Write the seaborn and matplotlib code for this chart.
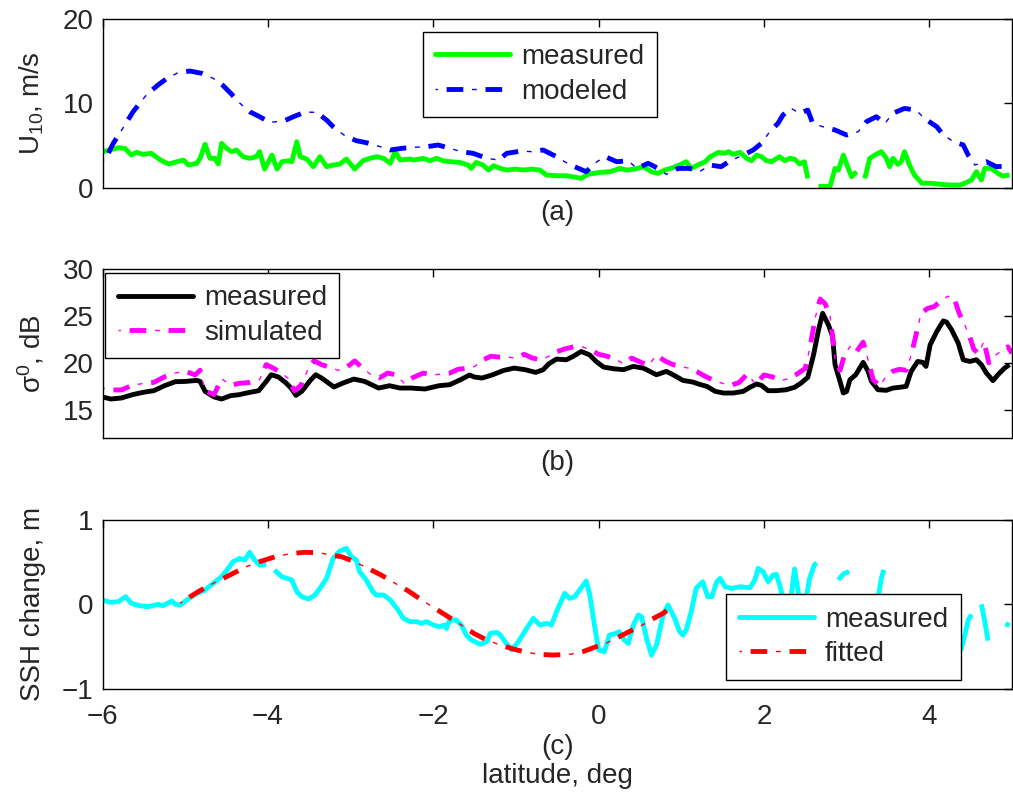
import numpy as np
import pandas as pd
import matplotlib
matplotlib.use("Agg")
import matplotlib.pyplot as plt
from matplotlib.lines import Line2D
from matplotlib.legend_handler import HandlerTuple
import seaborn as sns

nan = np.nan

# ---------------- (a) 10 m wind speed, m/s ----------------
lat_wind_meas = [
    -6.0, -5.91, -5.81, -5.73, -5.65, -5.59, -5.51, -5.41, -5.30, -5.20,
    -5.10, -5.02, -4.96, -4.86, -4.82, -4.76, -4.70, -4.64, -4.60, -4.56,
    -4.50, -4.44, -4.38, -4.30, -4.22, -4.14, -4.10, -4.04, -3.95, -3.89,
    -3.83, -3.75, -3.71, -3.65, -3.61, -3.53, -3.45, -3.37, -3.29, -3.21,
    -3.13, -3.05, -2.95, -2.85, -2.77, -2.68, -2.60, -2.52, -2.46, -2.40,
    -2.28, -2.24, -2.12, -2.04, -1.96, -1.88, -1.80, -1.68, -1.58, -1.54,
    -1.48, -1.40, -1.33, -1.27, -1.19, -1.11, -1.01, -0.91, -0.81, -0.71,
    -0.63, -0.51, -0.39, -0.31, -0.21, -0.13, 0.02, 0.14, 0.26, 0.34,
    0.44, 0.54, 0.64, 0.72, 0.80, 0.90, 1.02, 1.06, 1.12, 1.20,
    1.29, 1.35, 1.39, 1.45, 1.53, 1.57, 1.63, 1.71, 1.79, 1.85,
    1.91, 1.97, 2.03, 2.09, 2.19, 2.25, 2.31, 2.37, 2.43, 2.49, 2.53, nan,
    2.66, 2.80, 2.86, 2.90, 2.96, 3.02, 3.06, 3.12, nan,
    3.22, 3.28, 3.34, 3.42, 3.48, 3.52, 3.56, 3.62, 3.66, 3.70,
    3.76, 3.82, 3.91, 4.01, 4.13, 4.25, 4.37, 4.43, 4.51, 4.57,
    4.63, 4.67, 4.75, 4.83, 4.89, 4.97]
wind_meas = [
    4.27, 4.47, 4.74, 4.67, 3.87, 4.19, 3.96, 4.08, 3.28, 2.81,
    3.08, 3.28, 2.69, 2.89, 3.48, 5.15, 3.48, 3.48, 2.81, 5.26,
    4.67, 4.27, 4.47, 3.68, 3.48, 3.68, 4.27, 2.21, 3.87, 2.21,
    3.08, 3.20, 3.08, 5.45, 3.68, 3.40, 2.49, 3.68, 2.49, 2.69,
    2.81, 3.40, 2.21, 3.20, 3.48, 3.68, 3.48, 2.89, 4.27, 3.28,
    3.40, 3.28, 3.48, 3.20, 3.48, 3.20, 3.08, 3.00, 2.69, 2.29,
    3.00, 2.69, 2.09, 2.61, 2.29, 2.09, 2.21, 2.09, 2.21, 2.09,
    1.50, 1.42, 1.42, 1.30, 1.11, 1.58, 1.82, 1.90, 2.29, 2.09,
    2.21, 2.49, 1.90, 1.70, 2.09, 2.37, 2.89, 3.08, 2.29, 2.69,
    3.08, 3.68, 3.87, 4.19, 4.08, 4.27, 3.96, 4.19, 3.48, 3.20,
    3.87, 3.68, 3.20, 3.08, 3.68, 3.20, 3.48, 3.40, 2.81, 3.08, 1.11, nan,
    0.15, 0.15, 2.29, 2.09, 3.87, 2.29, 1.30, 1.90, nan,
    1.11, 3.48, 3.87, 4.27, 3.48, 2.49, 3.48, 2.77, 3.08, 4.27,
    2.69, 1.50, 0.53, 0.53, 0.41, 0.32, 0.32, 0.53, 0.92, 1.90,
    0.92, 2.29, 2.29, 1.70, 1.38, 1.50]

lat_wind_model = [
    -6.0, -5.93, -5.87, -5.73, -5.63, -5.55, -5.47, -5.33, -5.22, -5.08,
    -4.94, -4.80, -4.66, -4.54, -4.44, -4.36, -4.22, -4.10, -3.98, -3.81,
    -3.69, -3.55, -3.41, -3.29, -3.21, -3.07, -2.93, -2.81, -2.64, -2.52,
    -2.38, -2.24, -2.08, -1.94, -1.80, -1.66, -1.52, -1.35, -1.21, -1.11,
    -0.93, -0.81, -0.67, -0.51, -0.41, -0.29, -0.15, -0.02, 0.08, 0.22,
    0.36, 0.46, 0.60, 0.72, 0.82, 0.96, 1.10, 1.22, 1.35, 1.48,
    1.61, 1.75, 1.87, 1.97, 2.07, 2.17, 2.23, 2.33, 2.43, 2.53,
    2.59, 2.71, 2.86, 3.00, 3.14, 3.24, 3.36, 3.46, 3.56, 3.70,
    3.84, 3.94, 4.09, 4.17, 4.29, 4.41, 4.47, 4.55, 4.69, 4.81, 4.97]
wind_model = [
    3.0, 4.08, 5.26, 7.43, 9.01, 10.0, 10.99, 12.17, 12.96, 13.67,
    13.83, 13.56, 12.96, 12.09, 11.10, 10.2, 9.01, 8.42, 7.75, 7.90,
    8.42, 8.97, 8.93, 8.02, 7.23, 6.17, 5.57, 5.34, 4.86, 4.47,
    4.67, 4.79, 4.86, 5.06, 4.67, 4.27, 4.08, 3.48, 3.28, 4.08,
    4.35, 4.27, 4.47, 3.68, 3.08, 2.49, 1.90, 3.08, 3.68, 3.08,
    3.20, 2.29, 2.89, 2.29, 1.58, 2.29, 2.29, 1.90, 2.69, 2.49,
    3.28, 3.87, 4.47, 5.26, 6.64, 7.63, 8.62, 9.40, 8.82, 9.2,
    7.63, 7.23, 6.84, 6.25, 6.64, 7.83, 8.42, 7.6, 8.82, 9.40,
    9.2, 8.22, 7.23, 6.25, 5.47, 5.07, 3.87, 2.69, 3.08, 2.49, 2.6]

# ---------------- (b) backscatter sigma0, dB ----------------
lat_sig_meas = [
    -6.00, -5.90, -5.77, -5.64, -5.51, -5.38, -5.25, -5.12, -4.99, -4.86,
    -4.82, -4.76, -4.65, -4.56, -4.45, -4.35, -4.22, -4.11, -4.02, -3.96,
    -3.87, -3.78, -3.72, -3.66, -3.59, -3.48, -3.42, -3.35, -3.20, -3.09,
    -2.96, -2.83, -2.66, -2.53, -2.40, -2.27, -2.10, -1.93, -1.80, -1.67,
    -1.56, -1.50, -1.41, -1.28, -1.15, -1.02, -0.89, -0.76, -0.67,
    -0.60, -0.51, -0.39, -0.31, -0.21, -0.11, -0.03, 0.06, 0.18, 0.30,
    0.42, 0.54, 0.62, 0.70, 0.82, 0.90, 1.02, 1.14,
    1.22, 1.31, 1.41, 1.51, 1.63, 1.75, 1.83, 1.91, 1.97, 2.05,
    2.15, 2.27, 2.37, 2.45, 2.53, 2.60, 2.66, 2.71, 2.78, 2.83,
    2.86, 2.92, 2.96, 3.00, 3.04, 3.11, 3.20, 3.26, 3.30, 3.38,
    3.48, 3.56, 3.64, 3.72, 3.78, 3.86, 3.92, 3.96, 4.01, 4.09,
    4.17, 4.21, 4.27, 4.35, 4.41, 4.49, 4.57, 4.63, 4.69, 4.77,
    4.83, 4.91, 4.97]
sig_meas = [
    16.35, 16.13, 16.24, 16.59, 16.84, 17.02, 17.55, 17.98, 18.01, 18.12,
    18.01, 16.95, 16.35, 16.13, 16.49, 16.59, 16.84, 17.02, 18.01, 18.72,
    18.47, 17.84, 17.30, 16.52, 16.95, 18.19, 18.72, 18.37, 17.41, 17.84,
    18.26, 18.01, 17.30, 17.55, 17.30, 17.30, 17.20, 17.55, 17.66, 18.19,
    18.69, 18.47, 18.37, 18.72, 19.18, 19.43, 19.26, 18.97, 19.26,
    19.9, 20.39, 20.32, 20.67, 21.20, 20.85, 20.14, 19.54, 19.36, 19.26,
    19.61, 19.43, 19.08, 18.72, 19.08, 18.72, 18.12, 17.94,
    17.7, 17.48, 16.95, 16.77, 16.77, 16.95, 17.38, 17.73, 17.59, 17.02,
    17.02, 17.12, 17.38, 17.84, 18.44, 20.85, 23.51, 25.28, 24.04, 22.80,
    19.79, 18.01, 16.77, 16.95, 18.19, 18.72, 20.04, 19.08, 18.01, 17.12,
    17.06, 17.30, 17.38, 17.48, 19.08, 20.14, 20.04, 19.61, 21.91, 23.33,
    24.47, 24.33, 23.51, 22.09, 20.32, 20.14, 20.32, 19.79, 18.91, 18.09,
    18.72, 19.43, 19.79]

lat_sig_sim = [
    -6.0, -5.9, -5.77, -5.64, -5.5, -5.38, -5.25, -5.12, -5.0, -4.88,
    -4.82, -4.76, -4.65, -4.56, -4.45, -4.35, -4.22, -4.1, -4.02, -3.93,
    -3.85, -3.75, -3.68, -3.6, -3.5, -3.44, -3.35, -3.25, -3.15, -3.05,
    -2.95, -2.85, -2.75, -2.65, -2.55, -2.45, -2.35, -2.25, -2.12, -2.0,
    -1.9, -1.8, -1.7, -1.6, -1.5, -1.4, -1.3, -1.2, -1.1, -1.0,
    -0.9, -0.8, -0.7, -0.6, -0.5, -0.4, -0.3, -0.2, -0.1, 0.0,
    0.1, 0.2, 0.3, 0.4, 0.5, 0.6, 0.7, 0.8, 0.9, 1.0,
    1.1, 1.2, 1.3, 1.4, 1.5, 1.6, 1.7, 1.8, 1.9, 2.0,
    2.1, 2.2, 2.3, 2.4, 2.5,
    2.56, 2.62, 2.68, 2.74, 2.8, 2.86, 2.92, 2.98, 3.05, 3.12,
    3.2, 3.26, 3.32, 3.4, 3.48, 3.56, 3.64, 3.72, 3.78, 3.84,
    3.9, 3.98, 4.06, 4.14, 4.22, 4.3, 4.36, 4.42, 4.48, 4.54,
    4.6, 4.66, 4.72, 4.8, 4.88, 4.95, 5.0]
sig_sim = [
    17.3, 17.1, 17.1, 17.6, 17.8, 17.9, 18.5, 18.9, 19.1, 18.7,
    19.2, 17.0, 16.6, 18.3, 17.6, 17.8, 17.9, 18.2, 19.8, 19.4,
    19.0, 18.3, 17.0, 17.6, 19.6, 20.2, 19.8, 19.5, 19.2, 19.5,
    20.2, 19.4, 18.7, 18.4, 18.9, 18.7, 17.8, 18.4, 18.9, 18.7,
    18.8, 18.9, 19.3, 19.4, 19.6, 20.3, 20.7, 20.6, 20.6, 20.5,
    20.9, 20.5, 20.3, 20.7, 21.2, 21.5, 21.7, 21.7, 21.4, 20.9,
    20.7, 20.4, 19.9, 20.5, 20.1, 19.7, 20.8, 20.2, 19.8, 19.6,
    19.4, 19.0, 18.5, 18.1, 17.8, 17.6, 17.9, 18.8, 17.7, 18.7,
    18.5, 18.1, 18.3, 18.8, 19.4,
    21.8, 24.8, 26.8, 26.3, 25.0, 20.5, 19.2, 21.0, 21.8, 21.2,
    22.2, 20.3, 18.2, 17.5, 18.6, 19.1, 19.3, 19.2, 20.8, 23.0,
    25.3, 25.8, 26.0, 26.6, 27.1, 26.9, 25.3, 24.2, 23.0, 21.4,
    21.0, 22.3, 20.0, 20.8, 21.3, 21.7, 21.0]

# ---------------- (c) sea surface height change, m ----------------
lat_ssh_meas = [
    -6.0, -5.91, -5.81, -5.72, -5.65, -5.55, -5.45, -5.33, -5.27, -5.16,
    -5.12, -5.06, -4.98, -4.86, -4.78, -4.66, -4.56, -4.48, -4.42, -4.34,
    -4.28, -4.22, -4.16, -4.10, -4.02, nan,
    -3.92, -3.83, -3.71, -3.65, -3.59, -3.51, -3.43, -3.37, -3.29, -3.25,
    -3.21, -3.13, -3.05, -2.99, -2.93, -2.89, -2.81, -2.73, -2.69, -2.60,
    -2.52, -2.44, -2.36, -2.28, -2.20, -2.14, -2.08, -2.00, -1.92, -1.86,
    -1.84, -1.80, -1.72, -1.66, -1.60, -1.54, -1.43, -1.35, -1.31, -1.23,
    -1.19, -1.13, -1.05, -0.97, -0.87, -0.79, -0.71, -0.63, -0.57, -0.51,
    -0.41, -0.35, -0.29, -0.23, -0.15, -0.11, -0.05, 0.00, 0.07, 0.13,
    0.21, 0.25, 0.31, 0.36, 0.42, 0.48, 0.52, 0.58, 0.64, 0.70,
    0.78, 0.84, 0.92, 0.98, 1.02, 1.06, 1.12, 1.18, 1.26, 1.32,
    1.37, 1.43, 1.47, 1.53, 1.61, 1.71, 1.83, 1.89, 1.93, 1.99,
    2.05, 2.11, 2.15, 2.19, 2.25, 2.31, 2.37, 2.43, 2.49, 2.55,
    2.61, 2.64, nan,
    2.90, 2.96, 3.03, nan,
    3.36, 3.39, 3.42, 3.45, nan,
    4.38, 4.43, 4.47, 4.51, nan,
    4.63, 4.67, 4.71, nan,
    4.92, 4.97]
ssh_meas = [
    0.052, 0.024, 0.032, 0.091, 0.012, -0.016, -0.028, 0.000, -0.016, 0.040,
    0.000, -0.008, 0.052, 0.131, 0.158, 0.249, 0.328, 0.427, 0.506, 0.545,
    0.526, 0.617, 0.526, 0.466, 0.474, nan,
    0.407, 0.328, 0.289, 0.150, 0.091, 0.063, 0.111, 0.190, 0.308, 0.427,
    0.545, 0.632, 0.664, 0.565, 0.526, 0.387, 0.289, 0.150, 0.111, 0.111,
    0.052, -0.047, -0.166, -0.205, -0.205, -0.225, -0.205, -0.245, -0.265, -0.245,
    -0.285, -0.186, -0.186, -0.245, -0.364, -0.423, -0.474, -0.443, -0.344, -0.332,
    -0.364, -0.443, -0.541, -0.443, -0.285, -0.166, -0.245, -0.225, -0.245, -0.09,
    0.130, 0.071, 0.091, 0.170, 0.277, 0.130, -0.245, -0.541, -0.561, -0.364,
    -0.344, -0.324, -0.423, -0.462, -0.245, -0.126, -0.146, -0.403, -0.601, -0.482,
    -0.126, -0.008, -0.166, -0.324, -0.364, -0.304, -0.087, 0.190, 0.269, 0.091,
    0.091, 0.269, 0.308, 0.209, 0.190, 0.209, 0.197, 0.289, 0.427, 0.387,
    0.269, 0.348, 0.356, 0.229, 0.0, -0.05, 0.42, 0.05, -0.05, 0.30,
    0.47, 0.49, nan,
    0.29, 0.36, 0.39, nan,
    -0.2, 0.13, 0.31, 0.41, nan,
    -0.55, -0.36, -0.19, -0.12, nan,
    0.0, -0.2, -0.43, nan,
    -0.23, -0.25]

lat_ssh_fit = [
    -5.06, -4.94, -4.83, -4.66, -4.54, -4.42, -4.26, -4.10, -3.91, -3.71,
    -3.55, -3.39, -3.23, -3.11, -2.95, -2.79, -2.63, -2.46, -2.30, -2.14,
    -1.98, -1.82, -1.66, -1.51, -1.35, -1.19, -1.03, -0.87, -0.71, -0.55,
    -0.33, -0.19, -0.03, 0.09, 0.25, 0.41, 0.53, 0.65, 0.78, 0.90]
ssh_fit = [
    0.012, 0.091, 0.158, 0.249, 0.308, 0.368, 0.447, 0.506, 0.565, 0.605,
    0.617, 0.613, 0.585, 0.565, 0.506, 0.427, 0.348, 0.249, 0.158, 0.052,
    -0.047, -0.146, -0.245, -0.344, -0.423, -0.482, -0.530, -0.569, -0.593, -0.601,
    -0.590, -0.561, -0.502, -0.462, -0.383, -0.304, -0.245, -0.174, -0.107, -0.016]

x_ticks = [-6, -4, -2, 0, 2, 4]
y_ticks_a = [0, 10, 20]
y_ticks_b = [15, 20, 25, 30]
y_ticks_c = [-1, 0, 1]

# ---------------- style ----------------
sns.set_style("white")
plt.rcParams["font.family"] = ["Liberation Sans", "DejaVu Sans"]
plt.rcParams["font.size"] = 20
plt.rcParams["mathtext.default"] = "regular"
plt.rcParams["lines.scale_dashes"] = False
plt.rcParams["axes.unicode_minus"] = True

LW = 3.5          # data line width, pt
THIN = 1.0        # width of the dots in the dash-dot pattern
DASH = (20, (12, 16))       # long dashes of '-.'
DOT = (1.75, (3.5, 24.5))   # short thin dots between the dashes


def to_frame(x, y):
    x = np.asarray(x, float)
    y = np.asarray(y, float)
    seg = np.cumsum(np.isnan(x))
    keep = ~np.isnan(x)
    return pd.DataFrame({"lat": x[keep], "val": y[keep], "seg": seg[keep]})


def draw(ax, x, y, color, style="solid"):
    df = to_frame(x, y)
    passes = [("-", LW)] if style == "solid" else [(DASH, LW), (DOT, THIN)]
    for ls, lw in passes:
        n0 = len(ax.lines)
        sns.lineplot(data=df, x="lat", y="val", units="seg", estimator=None,
                     color=color, ax=ax, legend=False)
        for ln in ax.lines[n0:]:
            ln.set_linewidth(lw)
            ln.set_linestyle(ls)
            ln.set_dash_capstyle("butt")
            ln.set_solid_capstyle("butt")


def handle(color, style="solid"):
    if style == "solid":
        return Line2D([], [], color=color, lw=LW)
    return (Line2D([], [], color=color, lw=LW, linestyle=DASH, dash_capstyle="butt"),
            Line2D([], [], color=color, lw=THIN, linestyle=DOT, dash_capstyle="butt"))


def add_legend(ax, handles, labels, anchor):
    leg = ax.legend(handles, labels, loc="upper left", bbox_to_anchor=anchor,
                    borderaxespad=0, handlelength=2.7, handletextpad=0.4,
                    borderpad=0.45, labelspacing=0.3, fontsize=20,
                    frameon=True, fancybox=False, framealpha=1,
                    edgecolor="black", handler_map={tuple: HandlerTuple(ndivide=1)})
    leg.get_frame().set_linewidth(1.0)
    return leg


fig = plt.figure(figsize=(10.13, 7.96), dpi=100)
left, width, height = 0.1012, 0.8978, 0.2119
ax_a = fig.add_axes([left, 0.7642, width, height])
ax_b = fig.add_axes([left, 0.4501, width, height])
ax_c = fig.add_axes([left, 0.1348, width, height])

# (a)
draw(ax_a, lat_wind_meas, wind_meas, "#00ff00")
draw(ax_a, lat_wind_model, wind_model, "#0000ff", "dashdot")
ax_a.set_ylim(0, 20)
ax_a.set_yticks(y_ticks_a)
ax_a.set_ylabel("U$_{10}$, m/s")
ax_a.set_xlabel("(a)", labelpad=9)
add_legend(ax_a, [handle("#00ff00"), handle("#0000ff", "dashdot")],
           ["measured", "modeled"], (0.352, 0.925))

# (b)
draw(ax_b, lat_sig_meas, sig_meas, "black")
draw(ax_b, lat_sig_sim, sig_sim, "#ff00ff", "dashdot")
ax_b.set_ylim(12, 30)
ax_b.set_yticks(y_ticks_b)
ax_b.set_ylabel("σ$^{0}$, dB")
ax_b.set_xlabel("(b)", labelpad=9)
add_legend(ax_b, [handle("black"), handle("#ff00ff", "dashdot")],
           ["measured", "simulated"], (0.003, 0.978))

# (c)
draw(ax_c, lat_ssh_meas, ssh_meas, "#00ffff")
draw(ax_c, lat_ssh_fit, ssh_fit, "#ff0000", "dashdot")
ax_c.set_ylim(-1, 1)
ax_c.set_yticks(y_ticks_c)
ax_c.set_ylabel("SSH change, m")
ax_c.set_xlabel("(c)\nlatitude, deg", labelpad=3, linespacing=1.15)
add_legend(ax_c, [handle("#00ffff"), handle("#ff0000", "dashdot")],
           ["measured", "fitted"], (0.686, 0.560))

for ax in (ax_a, ax_b, ax_c):
    ax.set_xlim(-6, 5)
    ax.set_xticks(x_ticks)
    ax.tick_params(direction="in", length=6, width=1, top=True, right=True,
                   labelsize=20, color="black")
    ax.tick_params(axis="y", pad=6.5)
    ax.tick_params(axis="x", pad=11)
    for sp in ax.spines.values():
        sp.set_visible(True)
        sp.set_color("black")
        sp.set_linewidth(1.0)
    ax.yaxis.set_label_coords(-0.062, 0.5)
    ax.set_facecolor("white")

for ax in (ax_a, ax_b):
    ax.tick_params(axis="x", labelbottom=False)

fig.savefig("out.png", dpi=100, facecolor="white")
